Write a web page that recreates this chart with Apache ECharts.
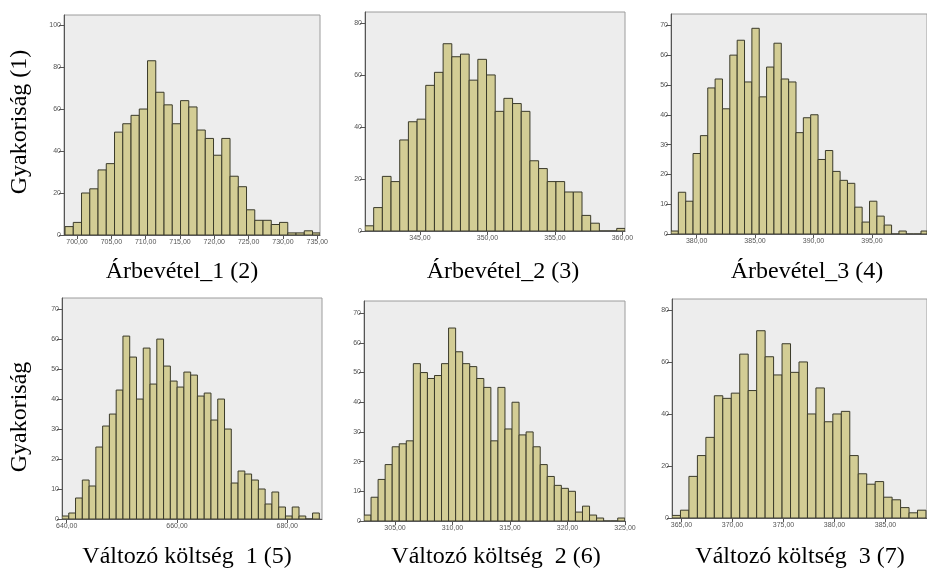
<!DOCTYPE html>
<html>
<head>
<meta charset="utf-8">
<script src="https://cdn.jsdelivr.net/npm/echarts@6/dist/echarts.min.js"></script>
<style>
html,body{margin:0;padding:0;background:#fff;}
#main{width:927px;height:572px;}
</style>
</head>
<body>
<div id="main"></div>
<script>
// ---- Data ----
// Panel titles
const panelTitles = ['Árbevétel_1 (2)', 'Árbevétel_2 (3)', 'Árbevétel_3 (4)',
                     'Változó költség  1 (5)', 'Változó költség  2 (6)', 'Változó költség  3 (7)'];
const rowLabels = ['Gyakoriság (1)', 'Gyakoriság'];

// Histogram counts per bin
const p1Counts = [4,6,20,22,31,34,49,53,57,60,83,68,62,53,64,61,50,46,38,46,28,23,12,7,7,5,6,1,1,2,1];
const p2Counts = [2,9,21,19,35,42,43,56,61,72,67,68,58,66,60,46,51,49,46,27,24,19,19,15,15,6,3,0,0,1];
const p3Counts = [1,14,11,27,33,49,52,42,60,65,51,69,46,56,64,52,51,34,39,40,25,28,21,18,17,9,4,11,6,3,0,1,0,0,1];
const p4Counts = [1,2,7,13,11,24,31,35,43,61,54,40,57,45,60,51,46,44,49,48,41,42,33,40,30,12,16,15,13,10,5,9,4,1,4,1,0,2];
const p5Counts = [2,8,14,19,25,26,27,53,50,48,49,53,65,57,53,52,48,45,27,45,31,40,29,30,25,19,15,12,11,10,3,5,2,1,0,0,1];
const p6Counts = [1,3,16,24,31,47,46,48,63,49,72,62,55,67,56,60,40,50,37,40,41,24,17,13,14,8,7,4,2,3];

// Bin start and bin width (x units)
const binStarts = [698.25, 340.93, 377.81, 639.15, 302.30, 364.07];
const binWidths = [1.202, 0.643, 0.629, 1.228, 0.613, 0.830];

// X tick labels
const p1XTicks = [700,705,710,715,720,725,730,735];
const p2XTicks = [345,350,355,360];
const p3XTicks = [380,385,390,395];
const p4XTicks = [640,660,680];
const p5XTicks = [305,310,315,320,325];
const p6XTicks = [365,370,375,380,385];

// Y tick labels
const p1YTicks = [0,20,40,60,80,100];
const p2YTicks = [0,20,40,60,80];
const p3YTicks = [0,10,20,30,40,50,60,70];
const p4YTicks = [0,10,20,30,40,50,60,70];
const p5YTicks = [0,10,20,30,40,50,60,70];
const p6YTicks = [0,20,40,60,80];

// Axis extents
const xMins = [698.1, 340.93, 377.81, 639.15, 302.30, 364.07];
const xMaxs = [735.4, 360.19, 399.71, 686.30, 325.00, 389.07];
const yMaxs = [104.8, 84.2, 73.8, 73.7, 74.1, 84.2];

// ---- Layout (pixels) ----
const grids = [
  {left: 64,  top: 15,  width: 256, height: 220},
  {left: 365, top: 12,  width: 260, height: 219},
  {left: 671, top: 14,  width: 260, height: 220},
  {left: 62,  top: 298, width: 260, height: 221},
  {left: 364, top: 301, width: 261, height: 220},
  {left: 672, top: 299, width: 260, height: 219}
];
const titlePos = [[182,272],[503,272],[807,272],[187,557],[496,557],[800,557]];
const rowLabelPos = [[20,122],[20,417]];

const allCounts = [p1Counts,p2Counts,p3Counts,p4Counts,p5Counts,p6Counts];
const allXTicks = [p1XTicks,p2XTicks,p3XTicks,p4XTicks,p5XTicks,p6XTicks];
const allYTicks = [p1YTicks,p2YTicks,p3YTicks,p4YTicks,p5YTicks,p6YTicks];

const fmtX = v => v.toFixed(2).replace('.', ',');

const chart = echarts.init(document.getElementById('main'), null, {renderer: 'canvas'});

const gridOpts = [], xAxes = [], yAxes = [], series = [];
grids.forEach((g, i) => {
  gridOpts.push(Object.assign({
    show: true, backgroundColor: '#ededed', borderColor: '#9c9c9c', borderWidth: 1,
    containLabel: false
  }, g));
  xAxes.push({
    type: 'value', gridIndex: i, min: xMins[i], max: xMaxs[i],
    axisLine: {show: true, lineStyle: {color: '#555', width: 1}},
    axisTick: {show: true, customValues: allXTicks[i], length: 4, lineStyle: {color: '#555'}},
    axisLabel: {customValues: allXTicks[i], formatter: fmtX, fontSize: 7, color: '#555', margin: 4,
                fontFamily: 'Arial, Liberation Sans'},
    splitLine: {show: false}
  });
  yAxes.push({
    type: 'value', gridIndex: i, min: 0, max: yMaxs[i],
    axisLine: {show: true, lineStyle: {color: '#555', width: 1}},
    axisTick: {show: true, customValues: allYTicks[i], length: 5, lineStyle: {color: '#555'}},
    axisLabel: {customValues: allYTicks[i], fontSize: 7, color: '#555', margin: 3,
                fontFamily: 'Arial, Liberation Sans'},
    splitLine: {show: false}
  });
  const data = allCounts[i].map((c, k) => [binStarts[i] + k * binWidths[i], binStarts[i] + (k + 1) * binWidths[i], c]);
  series.push({
    type: 'custom', xAxisIndex: i, yAxisIndex: i, clip: true,
    data: data,
    encode: {x: [0, 1], y: 2},
    renderItem: function (params, api) {
      const p0 = api.coord([api.value(0), api.value(2)]);
      const p1 = api.coord([api.value(1), 0]);
      const rect = echarts.graphic.clipRectByRect({
        x: p0[0], y: p0[1], width: p1[0] - p0[0], height: p1[1] - p0[1]
      }, {
        x: params.coordSys.x, y: params.coordSys.y,
        width: params.coordSys.width, height: params.coordSys.height
      });
      if (!rect) return null;
      return {
        type: 'rect', shape: rect,
        style: {fill: '#d3cd95', stroke: '#3a3a2a', lineWidth: 1}
      };
    }
  });
});

const graphics = [];
panelTitles.forEach((t, i) => {
  graphics.push({
    type: 'text', x: titlePos[i][0], y: titlePos[i][1],
    style: {text: t, fill: '#000', font: '24px "Liberation Serif", "Times New Roman", serif',
            align: 'center', verticalAlign: 'middle'}
  });
});
rowLabels.forEach((t, i) => {
  graphics.push({
    type: 'text', x: rowLabelPos[i][0], y: rowLabelPos[i][1], rotation: Math.PI / 2,
    style: {text: t, fill: '#000', font: '24px "Liberation Serif", "Times New Roman", serif',
            align: 'center', verticalAlign: 'middle'}
  });
});

chart.setOption({
  backgroundColor: '#ffffff',
  animation: false,
  grid: gridOpts,
  xAxis: xAxes,
  yAxis: yAxes,
  series: series,
  graphic: graphics
});
</script>
</body>
</html>
